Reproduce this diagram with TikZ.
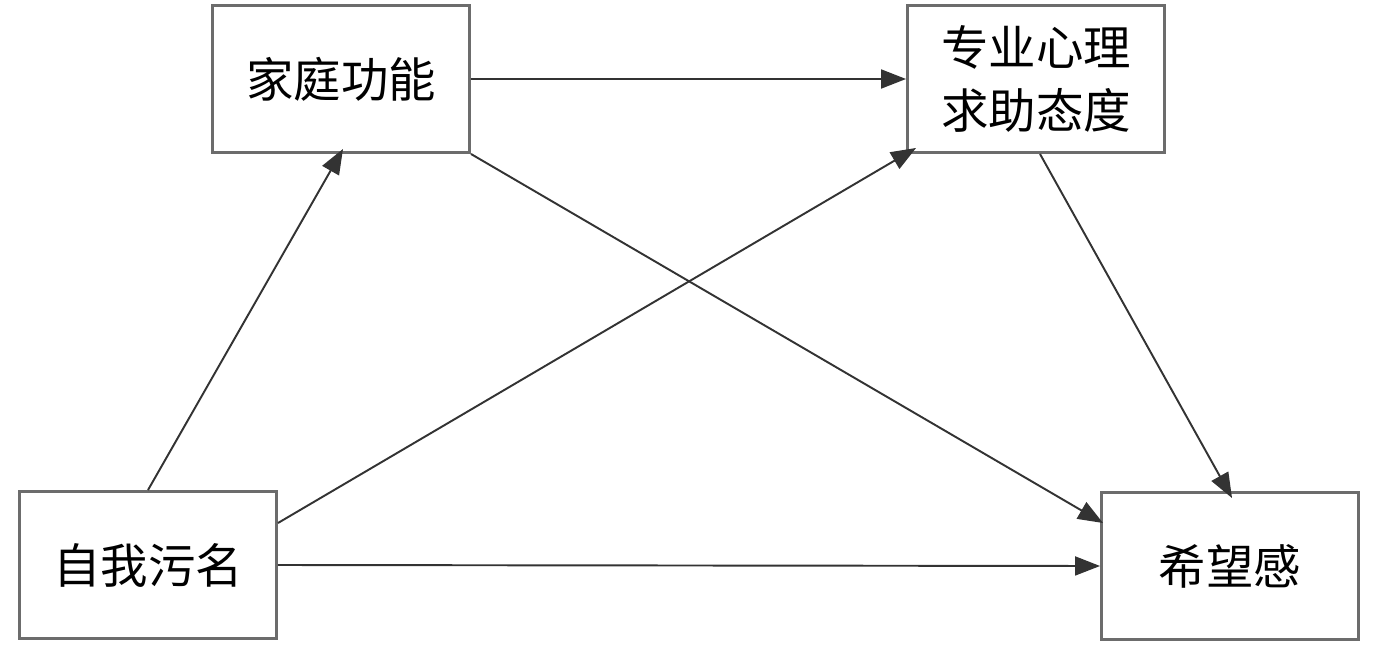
\documentclass[tikz,border=0pt]{standalone}
\usepackage{fontspec}
\setmainfont{Noto Sans CJK SC}
\usetikzlibrary{arrows.meta}

\begin{document}
\begin{tikzpicture}[x=0.02cm, y=-0.02cm, align=center,
	main/.style = {draw=gray!85!black, line width=1.7pt, fill=white, minimum width=5.14cm, minimum height=2.94cm, inner sep=0pt, font=\fontsize{27}{36}\selectfont},
	link/.style = {draw=black!80, line width=1.1pt, -{Triangle[length=0.5cm, width=0.38cm]}}]
	\useasboundingbox (0,0) rectangle (1378,648);
	\node[main] (jt) at (341,79) {家庭功能};
	\node[main] (zy) at (1036,79) {专业心理\\求助态度};
	\node[main] (zw) at (148,565) {自我污名};
	\node[main] (xw) at (1230,566) {希望感};
	\draw[link] (jt.east) -- (zy.west);
	\draw[link] (zw.north) -- ([xshift=0.04cm, yshift=0.1cm]jt.south);
	\draw[link] ([yshift=-0.66cm]zw.north east) -- ([xshift=0.2cm, yshift=0.12cm]zy.south west);
	\draw[link] (jt.south east) -- ([xshift=0.06cm, yshift=-0.64cm]xw.north west);
	\draw[link] ([xshift=0.08cm]zy.south) -- ([xshift=0.04cm, yshift=-0.14cm]xw.north);
	\draw[link] (zw.east) -- (xw.west);
\end{tikzpicture}
\end{document}
